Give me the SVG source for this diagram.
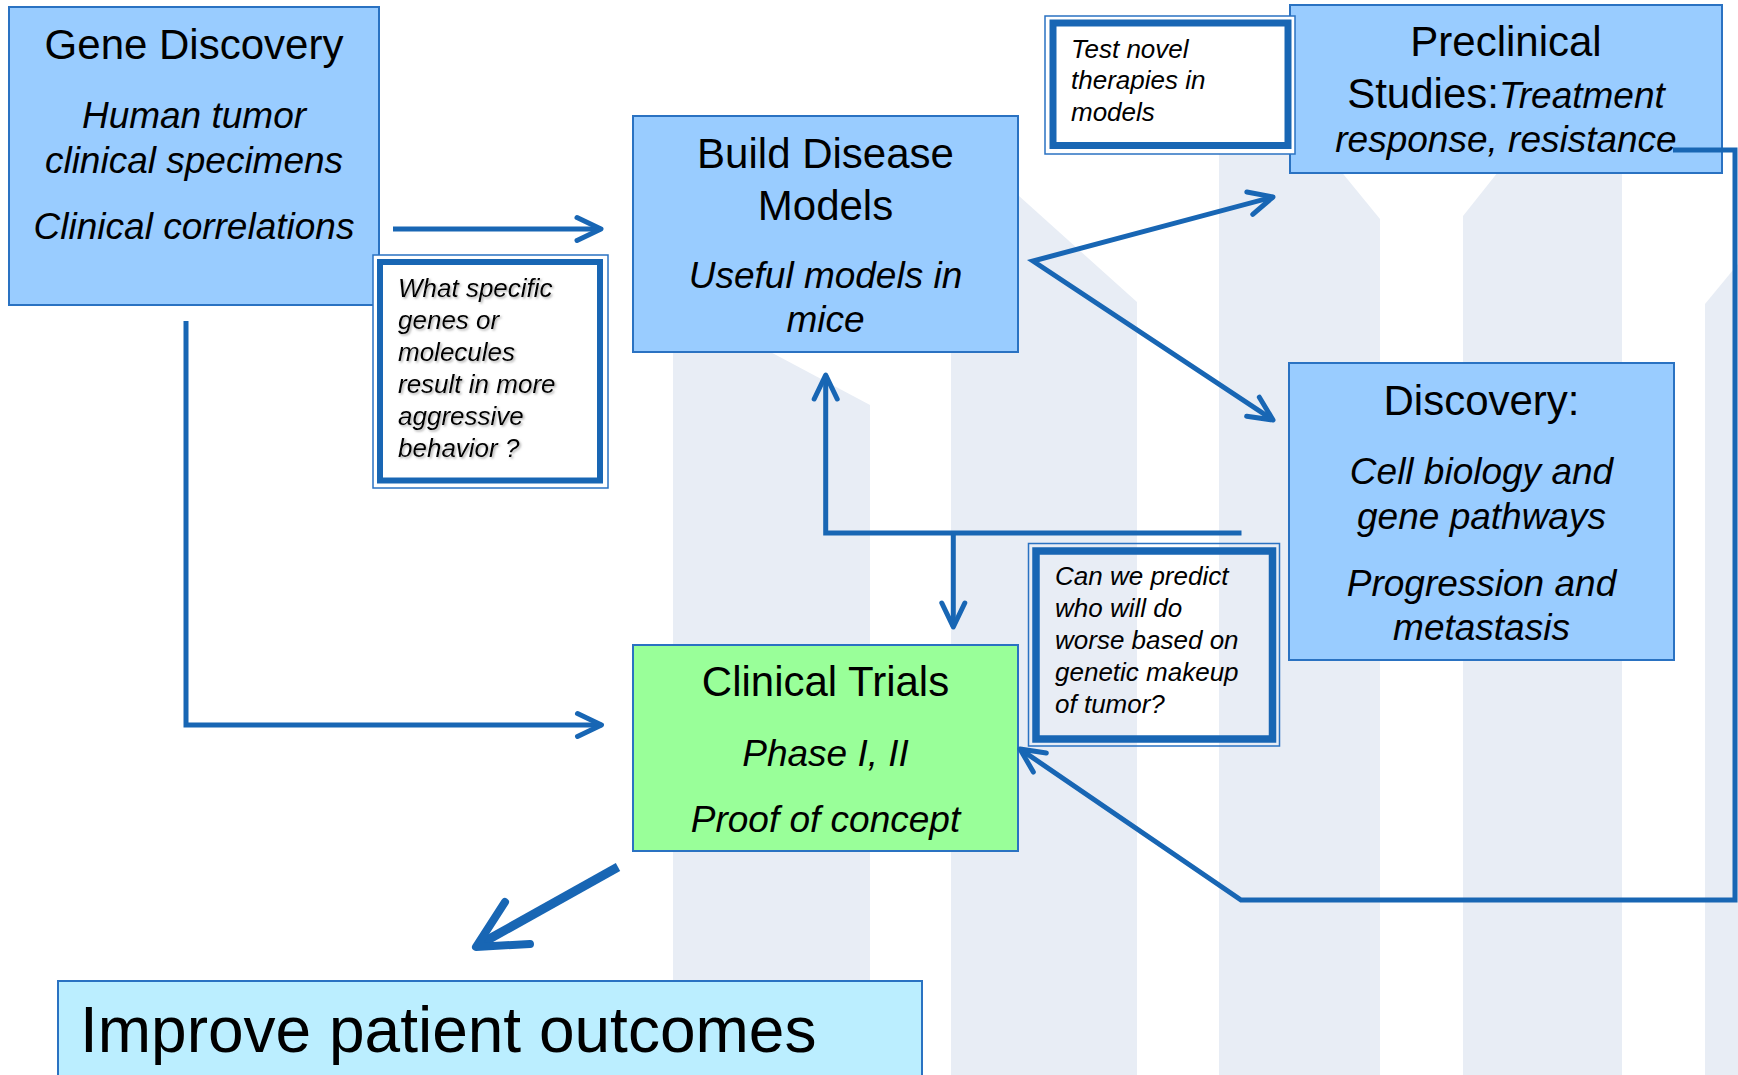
<svg xmlns="http://www.w3.org/2000/svg" width="1738" height="1075" viewBox="0 0 1738 1075">
<style>
.bg{fill:#E8EDF5;stroke:none}
.box{fill:#99CCFF;stroke:#2A72C2;stroke-width:2}
.t{font-family:"Liberation Sans",Arial,sans-serif;fill:#000}
.h{font-size:42px;text-anchor:middle}
.i{font-size:37px;font-style:italic;text-anchor:middle}
.q{font-size:26px;font-style:italic}
.thin{stroke:#2A72C2;stroke-width:1.5}
.thick{fill:none;stroke:#1866B4}
.c{fill:none;stroke:#1866B4;stroke-width:5}
</style>
<defs>
<marker id="arr" markerUnits="userSpaceOnUse" viewBox="-30 -16 34 32" refX="0" refY="0" markerWidth="34" markerHeight="32" orient="auto-start-reverse" overflow="visible">
<path d="M-24,-11.5 L0,0 L-24,11.5" fill="none" stroke="#1866B4" stroke-width="5" stroke-linecap="round" stroke-linejoin="round"/>
</marker>
<filter id="sh" x="-5%" y="-5%" width="110%" height="110%">
<feDropShadow dx="1.5" dy="1.5" stdDeviation="1" flood-color="#777" flood-opacity="0.6"/>
</filter>
</defs>
<rect width="1738" height="1075" fill="#fff"/>
<g id="background">
<polygon class="bg" points="673,300 870,405 870,1075 673,1075"/>
<polygon class="bg" points="951,135 1137,302 1137,1075 951,1075"/>
<polygon class="bg" points="1219,22 1380,219 1380,1075 1219,1075"/>
<polygon class="bg" points="1463,216 1622,16 1622,1075 1463,1075"/>
<polygon class="bg" points="1705,304 1738,264 1738,1075 1705,1075"/>
</g>
<g id="gene-discovery">
<rect class="box" x="9" y="7" width="370" height="298"/>
<text class="t h" x="194" y="59">Gene Discovery</text>
<text class="t i" x="194" y="128">Human tumor</text>
<text class="t i" x="194" y="173">clinical specimens</text>
<text class="t i" x="194" y="239">Clinical correlations</text>
</g>
<g id="question-genes">
<rect x="373" y="255" width="235" height="233" fill="#fff" class="thin"/>
<rect class="thick" x="380" y="262" width="220" height="218.5" stroke-width="6"/>
<g filter="url(#sh)">
<text class="t q" x="398" y="297">What specific</text>
<text class="t q" x="398" y="329">genes or</text>
<text class="t q" x="398" y="361">molecules</text>
<text class="t q" x="398" y="393">result in more</text>
<text class="t q" x="398" y="425">aggressive</text>
<text class="t q" x="398" y="457">behavior ?</text>
</g>
</g>
<g id="build-models">
<rect class="box" x="633" y="116" width="385" height="236"/>
<text class="t h" x="825.5" y="168">Build Disease</text>
<text class="t h" x="825.5" y="220">Models</text>
<text class="t i" x="825.5" y="288">Useful models in</text>
<text class="t i" x="825.5" y="332">mice</text>
</g>
<g id="preclinical">
<rect class="box" x="1290" y="5" width="432" height="168"/>
<text class="t h" x="1506" y="56">Preclinical</text>
<text class="t" x="1506" y="108" text-anchor="middle"><tspan font-size="42">Studies:</tspan><tspan font-size="37" font-style="italic">Treatment</tspan></text>
<text class="t i" x="1506" y="152">response, resistance</text>
</g>
<g id="question-test">
<rect x="1045" y="16" width="250" height="138" fill="#fff" class="thin"/>
<rect class="thick" x="1053" y="23" width="235" height="122.5" stroke-width="7"/>
<text class="t q" x="1071" y="58">Test novel</text>
<text class="t q" x="1071" y="89">therapies in</text>
<text class="t q" x="1071" y="121">models</text>
</g>
<g id="discovery">
<rect class="box" x="1289" y="363" width="385" height="297"/>
<text class="t h" x="1481.5" y="415">Discovery:</text>
<text class="t i" x="1481.5" y="484">Cell biology and</text>
<text class="t i" x="1481.5" y="529">gene pathways</text>
<text class="t i" x="1481.5" y="596">Progression and</text>
<text class="t i" x="1481.5" y="640">metastasis</text>
</g>
<g id="question-predict">
<rect x="1028.5" y="543.5" width="251" height="202.5" fill="none" class="thin"/>
<rect class="thick" x="1036" y="551" width="236.5" height="188" stroke-width="7.5"/>
<text class="t q" x="1055" y="585">Can we predict</text>
<text class="t q" x="1055" y="617">who will do</text>
<text class="t q" x="1055" y="649">worse based on</text>
<text class="t q" x="1055" y="681">genetic makeup</text>
<text class="t q" x="1055" y="713">of tumor?</text>
</g>
<g id="clinical-trials">
<rect x="633" y="645" width="385" height="206" fill="#99FF99" stroke="#2A72C2" stroke-width="2"/>
<text class="t h" x="825.5" y="696">Clinical Trials</text>
<text class="t i" x="825.5" y="766">Phase I, II</text>
<text class="t i" x="825.5" y="832">Proof of concept</text>
</g>
<g id="improve-outcomes">
<rect x="58" y="981" width="864" height="110" fill="#BBEEFF" stroke="#2A72C2" stroke-width="2"/>
<text class="t" x="80" y="1052" font-size="64">Improve patient outcomes</text>
</g>
<g id="connectors">
<path class="c" d="M393,229 L601,229" marker-end="url(#arr)"/>
<path class="c" d="M186,321 L186,725 L601.5,725" marker-end="url(#arr)"/>
<path class="c" d="M1273,197 L1033,261 L1273,420" marker-start="url(#arr)" marker-end="url(#arr)"/>
<path class="c" d="M1241.5,533 L825.7,533 L825.7,375" marker-end="url(#arr)"/>
<path class="c" d="M953.3,533 L953.3,627" marker-end="url(#arr)"/>
<path class="c" d="M1673,150 L1735,150 L1735,900 L1241,900 L1020,749" marker-end="url(#arr)"/>
<path d="M618,867 L482,943" fill="none" stroke="#1866B4" stroke-width="9"/>
<polyline points="505,902 476,947 530,944" fill="none" stroke="#1866B4" stroke-width="8" stroke-linecap="round" stroke-linejoin="round"/>
</g>
</svg>
